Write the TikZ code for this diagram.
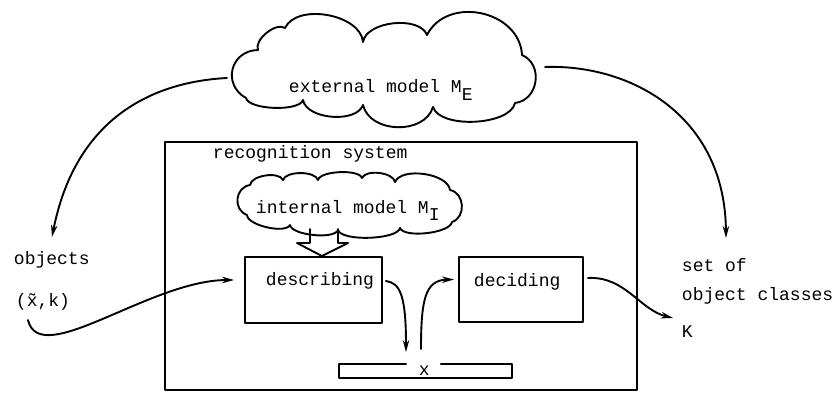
\documentclass[tikz,border=0pt]{standalone}
\usepackage{fontspec}
\setmonofont{Liberation Mono}
\usetikzlibrary{arrows.meta,calc}
\begin{document}
\begin{tikzpicture}[x=1pt,y=-1pt,
  line width=1.9pt, line join=round, line cap=round,
  lbl/.style={font=\ttfamily\fontsize{18}{20}\selectfont, anchor=base west, inner sep=0pt},
  puff/.style={bend left=75, looseness=#1},
  arr/.style={-{Stealth[length=12pt,width=6.5pt]}},
  box/.style={draw, line width=1.9pt, inner sep=0pt}]
\useasboundingbox (0,0) rectangle (834,393);

% external model cloud
\draw (246,98) to[puff=1.43] (258,50) to[puff=.8] (285,28) to[puff=.9] (363,42)
  to[puff=.84] (427,35) to[puff=1.18] (522,55) to[puff=1.25] (515,103)
  to[puff=.72] (433,107) to[puff=1.07] (363,105) to[puff=.84] (303,100)
  to[puff=.55] (246,98);
\node[lbl] (ext) at (288,93) {external model M\raisebox{-7pt}{E}};

% recognition system
\node[box, minimum width=472pt, minimum height=248pt] (recsys) at (401,266) {};
\node[lbl] (rectitle) at (212,158) {recognition system};

% internal model cloud
\draw (247,215) to[puff=1.3] (250,185) to[puff=.75] (283,180) to[puff=.7] (318,180)
  to[puff=.55] (362,178) to[puff=.75] (395,182) to[puff=.77] (450,190)
  to[puff=1.2] (452,222) to[puff=.55] (400,228) to[puff=.5] (338,230)
  to[puff=.55] (290,225) to[puff=.6] (247,215);
\node[lbl] (int) at (255,213) {internal model M\raisebox{-7pt}{I}};

% boxes
\node[box, minimum width=137pt, minimum height=66pt] (desc) at (313.5,290) {};
\node[lbl] (desclbl) at (265,285) {describing};
\node[box, minimum width=124pt, minimum height=65pt] (dec) at (521,289.5) {};
\node[lbl] (declbl) at (473,286) {deciding};

% hollow arrow from internal model to describing
\draw (310,229) -- (310,243) -- (297,243) -- (desc.north -| 322,0) -- (348,243) -- (338,243) -- (338,229);

% feature bar x
\node[minimum width=171pt, minimum height=12pt, inner sep=0pt] (xbar) at (425.5,371) {};
\draw ($(xbar.north west)+(67,0)$) -- (xbar.north west) -- (xbar.south west)
  -- (xbar.south east) -- (xbar.north east) -- ($(xbar.north east)+(-71,0)$);
\node[lbl] (xlbl) at (418,375) {x};

% outer labels
\node[lbl] (objects) at (13,264) {objects};
\node[lbl] (xk) at (15,306) {(\~{x},k)};
\node[lbl] (setof) at (681,271) {set of};
\node[lbl] (classes) at (681,300) {object classes};
\node[lbl] (K) at (681,337) {K};

% connectors
\coordinate (extL) at (227,78);
\coordinate (extR) at (545,67);
\coordinate (objTip) at (52,237);
\coordinate (clsTip) at (726,238);
\coordinate (xkOut) at (28,320);
\coordinate (kTip) at (673,318);

\draw[arr] (extL) .. controls (150,82) and (75,120) .. (objTip);
\draw[arr] (extR) .. controls (630,64) and (725,115) .. (clsTip);
\draw[arr] (xkOut) .. controls (40,370) and (150,280) .. ($(desc.west)+(-10,-10)$);
\draw[arr] ($(desc.east)+(3,-9)$) .. controls (400,283) and (406,295) .. ($(xbar.north)+(-19.5,-12)$);
\draw[arr] ($(xbar.north)+(-4.5,-15)$) .. controls (421,300) and (425,280) .. ($(dec.west)+(-4,-10)$);
\draw[arr] ($(dec.east)+(4,-11.5)$) .. controls (625,276) and (640,310) .. (kTip);
\end{tikzpicture}
\end{document}
